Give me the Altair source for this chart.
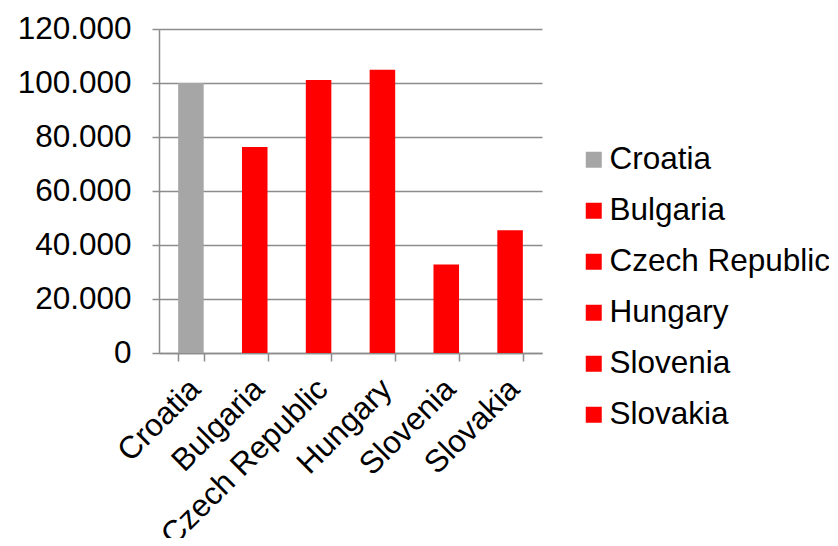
import altair as alt
import pandas as pd

countries = ["Croatia", "Bulgaria", "Czech Republic", "Hungary", "Slovenia", "Slovakia"]
values = [100000, 76300, 101100, 104900, 32800, 45500]
colors = ["#A6A6A6", "#FF0000", "#FF0000", "#FF0000", "#FF0000", "#FF0000"]
y_ticks = [0, 20000, 40000, 60000, 80000, 100000, 120000]

df = pd.DataFrame({"country": countries, "value": values})

FONT = "Liberation Sans"
FS = 31.5
GRID = "#8C8C8C"

chart = alt.Chart(df).mark_bar().encode(
    x=alt.X(
        "country:N",
        sort=countries,
        scale=alt.Scale(paddingInner=0.6, paddingOuter=0.3),
        axis=alt.Axis(
            title=None,
            labelAngle=-45,
            labelAlign="right",
            labelBaseline="top",
            labelPadding=12,
            labelOffset=-7,
            labelLimit=1000,
            labelFont=FONT,
            labelFontSize=FS,
            labelColor="#000000",
            tickBand="extent",
            tickSize=8,
            tickColor=GRID,
            tickWidth=1.5,
            domainColor=GRID,
            domainWidth=1.5,
            grid=False,
        ),
    ),
    y=alt.Y(
        "value:Q",
        scale=alt.Scale(domain=[0, 120000], nice=False),
        axis=alt.Axis(
            title=None,
            values=y_ticks,
            labelExpr="replace(format(datum.value, ','), ',', '.')",
            labelFont=FONT,
            labelFontSize=FS,
            labelColor="#000000",
            labelPadding=21,
            tickSize=7,
            tickColor=GRID,
            tickWidth=1.5,
            domainColor=GRID,
            domainWidth=1.5,
            grid=True,
            gridColor=GRID,
            gridWidth=1.5,
            gridOpacity=1,
        ),
    ),
    color=alt.Color(
        "country:N",
        sort=countries,
        scale=alt.Scale(domain=countries, range=colors),
        legend=alt.Legend(
            title=None,
            orient="none",
            legendX=419,
            legendY=115,
            symbolType="square",
            symbolSize=256,
            symbolStrokeWidth=0,
            symbolOpacity=1,
            labelFont=FONT,
            labelFontSize=FS,
            labelColor="#000000",
            labelOffset=0,
            labelLimit=1000,
            rowPadding=18,
            padding=0,
        ),
    ),
).properties(
    width=383,
    height=324,
    autosize=alt.AutoSizeParams(type="none"),
    padding={"left": 151, "top": 21, "right": 287, "bottom": 185},
).configure_view(
    stroke=None
)

chart.save("out.html", embed_options={"renderer": "svg", "actions": False})
